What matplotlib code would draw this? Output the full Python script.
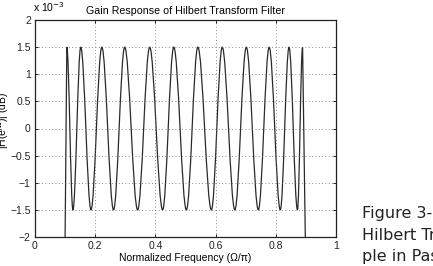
"""Gain response of an equiripple Hilbert transform filter (passband ripple, dB)."""

import matplotlib

matplotlib.use("Agg")
import matplotlib.pyplot as plt
from matplotlib.patches import PathPatch
from matplotlib.path import Path

# extrema: normalized frequency (Omega/pi) and gain in 1e-3 dB
freq = [0.100, 0.1057, 0.126, 0.152, 0.186, 0.222, 0.261, 0.298, 0.341, 0.381,
        0.424, 0.461, 0.503, 0.541, 0.586, 0.622, 0.664, 0.702, 0.742, 0.778,
        0.815, 0.844, 0.872, 0.889, 0.898]
gain_e3 = [-2.0, 1.5, -1.5, 1.5, -1.5, 1.5, -1.5, 1.5, -1.5, 1.5,
           -1.5, 1.5, -1.5, 1.5, -1.5, 1.5, -1.5, 1.5, -1.5, 1.5,
           -1.5, 1.5, -1.5, 1.5, -2.0]

x_ticks = [0, 0.2, 0.4, 0.6, 0.8, 1]
x_labels = ["0", "0.2", "0.4", "0.6", "0.8", "1"]
y_ticks = [-2, -1.5, -1, -0.5, 0, 0.5, 1, 1.5, 2]
y_labels = ["\u22122", "\u22121.5", "\u22121", "\u22120.5", "0", "0.5", "1", "1.5", "2"]

caption = ["Figure 3-9", "Hilbert Transform", "ple in Passband"]


def ripple_path(xs, ys, handle=0.36):
    """Straight band edges, smooth (flat-tangent Bezier) arcs between ripple extrema."""
    verts = [(xs[0], ys[0]), (xs[1], ys[1])]
    codes = [Path.MOVETO, Path.LINETO]
    for i in range(1, len(xs) - 2):
        x0, y0, x1, y1 = xs[i], ys[i], xs[i + 1], ys[i + 1]
        d = (x1 - x0) * handle
        verts += [(x0 + d, y0), (x1 - d, y1), (x1, y1)]
        codes += [Path.CURVE4] * 3
    verts.append((xs[-1], ys[-1]))
    codes.append(Path.LINETO)
    return Path(verts, codes)


plt.rcParams["font.family"] = ["Liberation Sans", "DejaVu Sans"]

fig = plt.figure(figsize=(4.33, 2.66), dpi=100)
ax = fig.add_axes([35 / 433, 29 / 266, 301 / 433, 217 / 266])

ax.add_patch(PathPatch(ripple_path(freq, gain_e3), facecolor="none",
                       edgecolor="#2a2a2a", linewidth=0.9))

ax.set_xlim(0, 1)
ax.set_ylim(-2, 2)
ax.set_xticks(x_ticks)
ax.set_xticklabels(x_labels)
ax.set_yticks(y_ticks)
ax.set_yticklabels(y_labels)
ax.tick_params(direction="in", length=2.5, width=0.7, labelsize=7.5, pad=3,
               top=True, right=True, colors="#222222")
ax.grid(True, linestyle=(0, (1, 3)), linewidth=0.6, color="#666666")
for spine in ax.spines.values():
    spine.set_linewidth(0.9)
    spine.set_color("#222222")

ax.set_title("Gain Response of Hilbert Transform Filter", fontsize=7.7, pad=4)
ax.set_xlabel("Normalized Frequency (\u03a9/\u03c0)", fontsize=7.5, labelpad=1)
fig.text(33 / 433, 1 - 12 / 266, r"x 10$^{-3}$", fontsize=7.5, ha="left", va="baseline")
fig.text(3 / 433, 1 - 120 / 266, r"|H(e$^{j\Omega}$)| (dB)", fontsize=7.5, rotation=90,
         ha="center", va="center")

for i, line in enumerate(caption):
    fig.text(362 / 433, 1 - (218 + 21.5 * i) / 266, line, fontsize=11.5,
             family=["DejaVu Sans"], ha="left", va="baseline", color="#222222")

fig.savefig("out.png", dpi=100)
